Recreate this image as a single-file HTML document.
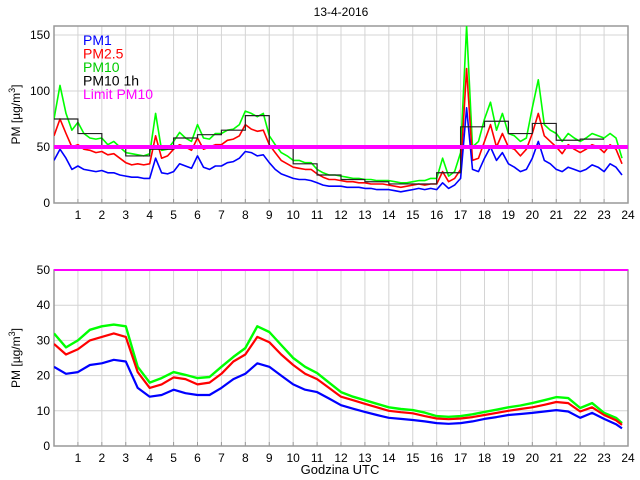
<!DOCTYPE html>
<html><head><meta charset="utf-8"><style>
body{margin:0;background:#fff;width:640px;height:480px;overflow:hidden}
svg{display:block;font-family:"Liberation Sans",sans-serif}
</style></head><body>
<svg id="c" width="640" height="480" viewBox="0 0 640 480">
<text x="341" y="16" font-size="12" text-anchor="middle">13-4-2016</text>
<text x="340" y="474" font-size="13" text-anchor="middle">Godzina UTC</text>
<g id="top"></g>
<g id="bot"></g>
</svg>
<script>
// ---- top panel data (0.25 h steps) ----
const topPm10 = [75,105,80,65, 72,62,58,57, 58,52,55,50, 45,44,43,42, 44,80,47,48, 55,63,58,55, 70,58,57,62, 62,65,66,70, 82,80,77,80, 60,52,45,42, 38,38,36,36, 30,27,25,25, 24,23,22,22, 21,21,20,20, 20,19,18,18, 19,20,20,22, 22,40,24,28, 45,160,50,55, 75,90,65,80, 62,60,55,58, 85,110,70,65, 62,55,62,58, 55,58,62,60, 58,62,58,40];
const topPm25 = [60,75,62,50, 52,48,47,45, 46,43,44,40, 36,34,35,34, 35,60,40,42, 48,52,50,47, 58,48,50,52, 52,56,57,60, 70,66,64,65, 52,45,38,35, 32,31,30,30, 26,23,21,21, 20,19,19,18, 18,17,17,17, 16,15,14,15, 16,17,16,17, 17,28,19,22, 30,120,38,40, 55,70,50,62, 50,48,42,48, 62,80,60,55, 50,44,52,48, 45,48,52,50, 45,52,48,35];
const topPm1 = [38,48,40,30, 33,30,29,28, 29,27,27,25, 24,23,23,22, 22,40,27,26, 28,35,33,31, 42,32,30,33, 33,36,37,40, 46,45,42,43, 36,30,26,24, 22,21,21,20, 18,16,15,15, 15,14,14,14, 13,13,12,12, 12,11,10,11, 12,13,12,13, 12,18,13,16, 22,85,30,28, 40,50,38,45, 35,32,28,30, 40,55,38,35, 30,28,32,30, 28,30,34,32, 28,35,32,25];
const topPm10h = [75,62,51,42,48,58,61,65,78,50,35,25,21,19,17,17,27,68,73,62,71,56,57];
const topYTicks = [0,50,100,150];
const topLimit = 50;
// ---- bottom panel data (0.5 h steps, last at 23.75) ----
const botTimes = [0,0.5,1,1.5,2,2.5,3,3.5,4,4.5,5,5.5,6,6.5,7,7.5,8,8.5,9,9.5,10,10.5,11,11.5,12,12.5,13,13.5,14,14.5,15,15.5,16,16.5,17,17.5,18,18.5,19,19.5,20,20.5,21,21.5,22,22.5,23,23.5,23.75];
const botPm10 = [32,28,30,33,34,34.5,34,22.5,18,19.3,21,20.2,19.3,19.6,22.5,25.3,27.8,34,32.4,28.7,25,22.5,20.7,18,15.3,14,13,12,11,10.5,10.2,9.5,8.5,8.3,8.5,9,9.7,10.3,11,11.5,12.2,13,13.9,13.6,10.8,12.2,9.4,8,6.5];
const botPm25 = [29,26,27.5,30,31,32,31,21,16.5,17.5,19.5,19,17.5,18,20.5,24,26,31,29.5,26,23,20.5,19,16.5,14,13,12,11,10,9.6,9.3,8.5,7.8,7.6,7.8,8.2,8.8,9.4,10,10.5,11,11.7,12.5,12.2,9.8,11,8.8,7.3,6];
const botPm1 = [22.5,20.5,21,23,23.5,24.5,24,16.5,14,14.5,16,15,14.5,14.5,16.5,19,20.5,23.5,22.5,20,17.5,16,15.3,13.5,11.6,10.6,9.7,8.8,8,7.7,7.4,7,6.5,6.3,6.5,7,7.7,8.2,8.8,9.1,9.4,9.8,10.2,9.8,8,9.4,7.7,6.2,5];
const botYTicks = [0,10,20,30,40,50];
const xTickLabels = ['1','2','3','4','5','6','7','8','9','10','11','12','13','14','15','16','17','18','19','20','21','22','23','24'];

const NS='http://www.w3.org/2000/svg';
function mk(p,t,a){const e=document.createElementNS(NS,t);for(const k in a)e.setAttribute(k,a[k]);p.appendChild(e);return e;}

function panel(g,L,R,T,B,ymax,yticks,limW,labelY,id){
  const x=h=>L+(R-L)*h/24, y=v=>B-(B-T)*Math.min(v,ymax)/ymax;
  const cp=mk(g,'clipPath',{id:'cp'+id}); mk(cp,'rect',{x:L,y:T,width:R-L,height:B-T});
  for(let i=0;i<xTickLabels.length;i++){
    const h=i+1;
    if(h<24){const gl=mk(g,'line',{x1:x(h),x2:x(h),y1:T,y2:B,stroke:'#d4d4d4','stroke-width':1});
    
    }
    const tk=mk(g,'line',{x1:x(h),x2:x(h),y1:B,y2:B-4,stroke:'#999'});
    
    
    const t=mk(g,'text',{x:x(h),y:B+16,'font-size':12,'text-anchor':'middle'});t.textContent=xTickLabels[i];
    
    
  }
  yticks.forEach(v=>{
    const gl=mk(g,'line',{x1:L,x2:R,y1:y(v),y2:y(v),stroke:'#d4d4d4'});
    
    
    const t=mk(g,'text',{x:L-4,y:y(v)+4,'font-size':12,'text-anchor':'end'});t.textContent=v;
    
    
  });
  const fr=mk(g,'rect',{x:L,y:T,width:R-L,height:B-T,fill:'none',stroke:'#999','stroke-width':1.5});
  
  
  const yl=mk(g,'text',{x:0,y:0,'font-size':12,'text-anchor':'middle',transform:`translate(${L-34},${(T+B)/2}) rotate(-90)`});
  yl.innerHTML='PM [µg/m<tspan dy="-5" font-size="9">3</tspan><tspan dy="5">]</tspan>';
  
  
  const lim=mk(g,'line',{x1:L,x2:R,y1:y(topLimit),y2:y(topLimit),stroke:'#ff00ff','stroke-width':limW});
  
  
  return {x,y,clip:'url(#cp'+id+')'};
}
function series(g,ax,times,vals,col,w,name){
  const d=vals.map((v,i)=>(i?'L':'M')+ax.x(times[i]).toFixed(1)+','+ax.y(v).toFixed(1)).join('');
  const p=mk(g,'path',{d,fill:'none',stroke:col,'stroke-width':w,'stroke-linejoin':'round','clip-path':ax.clip});
  
  
}
const svg=document.getElementById('c');
// top
const gt=document.getElementById('top');
const at=panel(gt,54,628,26,203,158,topYTicks,4,'t','t');
const tt=topPm10.map((_,i)=>i*0.25);
series(gt,at,tt,topPm10,'#00ff00',1.6,'pm10-line-top');
series(gt,at,tt,topPm25,'#ff0000',1.6,'pm25-line-top');
series(gt,at,tt,topPm1,'#0000ff',1.6,'pm1-line-top');
{let d='';topPm10h.forEach((v,i)=>{d+=(i?'L':'M')+at.x(i)+','+at.y(v)+'L'+at.x(i+1)+','+at.y(v);});
const p=mk(gt,'path',{d,fill:'none',stroke:'#222','stroke-width':1.2,'clip-path':at.clip});

}
// re-draw limit on top of series
mk(gt,'line',{x1:54,x2:628,y1:at.y(topLimit),y2:at.y(topLimit),stroke:'#ff00ff','stroke-width':4});
// legend
[['PM1','#0000ff'],['PM2.5','#ff0000'],['PM10','#00cc00'],['PM10 1h','#000'],['Limit PM10','#ff00ff']].forEach((e,i)=>{
  const t=mk(gt,'text',{x:83,y:45+i*13.5,'font-size':14,fill:e[1]});t.textContent=e[0];
  
  
});
// bottom
const gb=document.getElementById('bot');
const ab=panel(gb,54,628,270,446,50,botYTicks,2,'b','b');
series(gb,ab,botTimes,botPm10,'#00ff00',2.4,'pm10-line-bottom');
series(gb,ab,botTimes,botPm25,'#ff0000',2.2,'pm25-line-bottom');
series(gb,ab,botTimes,botPm1,'#0000ff',2.2,'pm1-line-bottom');
mk(gb,'line',{x1:54,x2:628,y1:270,y2:270,stroke:'#ff00ff','stroke-width':2});
</script>
</body></html>
